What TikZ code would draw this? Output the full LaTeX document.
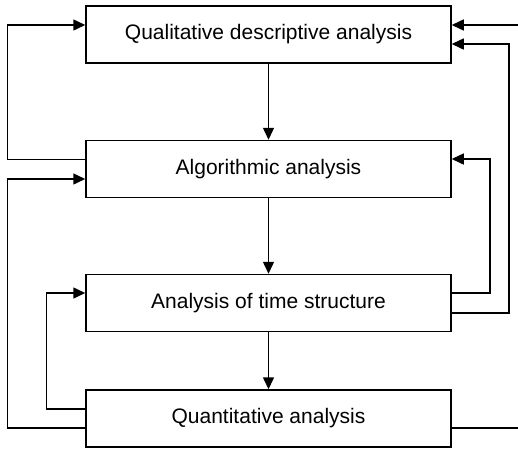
\documentclass[tikz,border=0pt]{standalone}
\usepackage{fontspec}
\setmainfont{Liberation Sans}
\usetikzlibrary{arrows.meta}
\begin{document}
\begin{tikzpicture}[x=1pt,y=-1pt,
  stage/.style={draw, line width=1.5pt, minimum width=365pt, minimum height=57pt,
    inner sep=0pt, font=\fontsize{21}{25}\selectfont},
  flow/.style={line width=1.5pt, -{Triangle[length=12pt,width=11pt]}},
  plain/.style={line width=1.5pt}]
\useasboundingbox (0,0) rectangle (518,448);

% the four stages of the analysis
\node[stage] (q1) at (268.5,34.5) {Qualitative descriptive analysis};
\node[stage] (q2) at (268.5,169) {Algorithmic analysis};
\node[stage] (q3) at (268.5,303) {Analysis of time structure};
\node[stage] (q4) at (268.5,418.5) {Quantitative analysis};

% free ends at the right margin
\coordinate (inR) at (518,25);
\coordinate (outR) at (518,428);

% main downward sequence
\draw[flow] (q1) -- (q2);
\draw[flow] (q2) -- (q3);
\draw[flow] (q3) -- (q4);

% feedback loops on the left
\draw[flow] ([yshift=9.5pt]q2.west) -- ++(-78,0) |- ([yshift=9.5pt]q1.west);
\draw[flow] ([yshift=-9.5pt]q4.west) -- ++(-78,0) |- ([yshift=-10pt]q2.west);
\draw[flow] ([yshift=9.5pt]q4.west) -- ++(-39,0) |- ([yshift=10pt]q3.west);

% feedback loops on the right
\draw[flow] ([yshift=10pt]q3.east) -- ++(38,0) |- ([yshift=10pt]q2.east);
\draw[flow] ([yshift=-10pt]q3.east) -- ++(57,0) |- ([yshift=-9.5pt]q1.east);
\draw[flow] (inR) -- ([yshift=9.5pt]q1.east);
\draw[plain] ([yshift=-9.5pt]q4.east) -- (outR);
\end{tikzpicture}
\end{document}
